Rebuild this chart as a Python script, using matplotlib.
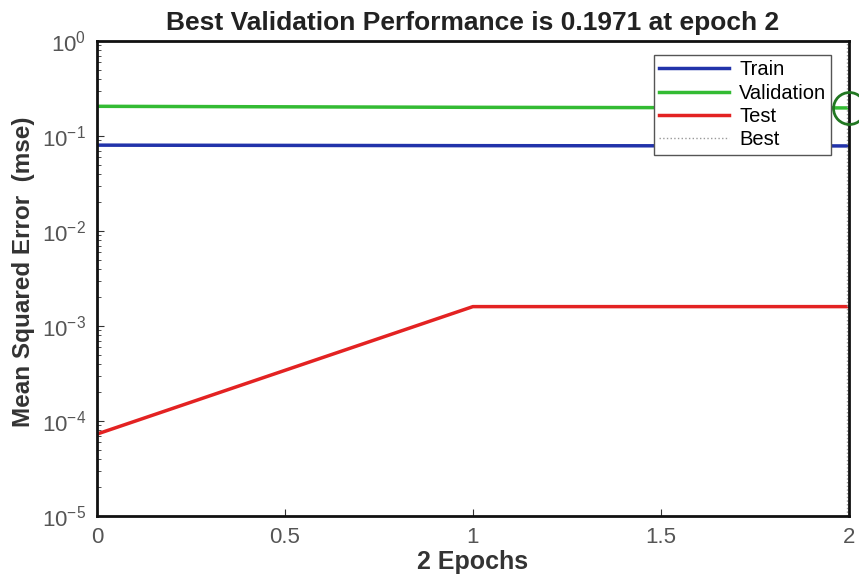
import matplotlib.pyplot as plt
from matplotlib.ticker import LogLocator, NullFormatter

plt.rcParams['font.family'] = ['Liberation Sans', 'DejaVu Sans']
plt.rcParams['mathtext.fontset'] = 'custom'
plt.rcParams['mathtext.rm'] = 'Liberation Sans'
plt.rcParams['mathtext.it'] = 'Liberation Sans'
plt.rcParams['mathtext.default'] = 'regular'

# performance per epoch
epochs = [0, 1, 2]
train_mse = [0.0800, 0.0790, 0.0785]
val_mse = [0.2050, 0.2000, 0.1971]
test_mse = [7.3e-5, 1.6e-3, 1.6e-3]
best_epoch = 2
best_val = 0.1971

fig = plt.figure(figsize=(8.59, 5.76), dpi=100)
ax = fig.add_axes([0.113, 0.104, 0.875, 0.825])

ax.plot(epochs, train_mse, color='#2233aa', lw=2.5, label='Train')
ax.plot(epochs, val_mse, color='#33bb33', lw=2.5, label='Validation')
ax.plot(epochs, test_mse, color='#e32222', lw=2.5, label='Test')
ax.plot([best_epoch - 0.004, best_epoch - 0.004], [1e-5, 1], ls=':', color='#999999', lw=1, label='Best')
ax.plot(best_epoch, best_val, 'o', ms=23, mfc='none', mec='#227722', mew=2, clip_on=False, zorder=5)

ax.set_yscale('log')
ax.set_xlim(0, 2)
ax.set_ylim(1e-5, 1)
ax.set_xticks([0, 0.5, 1, 1.5, 2])
ax.set_xticklabels(['0', '0.5', '1', '1.5', '2'])
ax.yaxis.set_minor_locator(LogLocator(base=10, subs=range(2, 10)))
ax.yaxis.set_minor_formatter(NullFormatter())
ax.tick_params(which='both', direction='in', right=False, top=False, labelsize=16,
               colors='#333333', labelcolor='#555555')
ax.tick_params(which='major', length=5)
ax.tick_params(which='minor', length=3)
ax.tick_params(axis='x', pad=8)
ax.tick_params(axis='y', pad=8)
for s in ax.spines.values():
    s.set_linewidth(2)
    s.set_color('#111111')

ax.set_title('Best Validation Performance is 0.1971 at epoch 2', fontsize=19, fontweight='bold',
             color='#222222', pad=8)
ax.set_xlabel('2 Epochs', fontsize=18, fontweight='bold', color='#333333', labelpad=1)
ax.set_ylabel('Mean Squared Error  (mse)', fontsize=17.5, fontweight='bold', color='#333333')
ax.yaxis.set_label_coords(-0.083, 0.514)

leg = ax.legend(loc='upper right', bbox_to_anchor=(0.977, 0.97), fontsize=14.5, fancybox=False,
                framealpha=1, edgecolor='#555555', handlelength=3.5, handletextpad=0.5,
                labelspacing=0.22, borderpad=0.25, borderaxespad=0)
leg.get_frame().set_linewidth(1)

fig.savefig('out.png', dpi=100)
